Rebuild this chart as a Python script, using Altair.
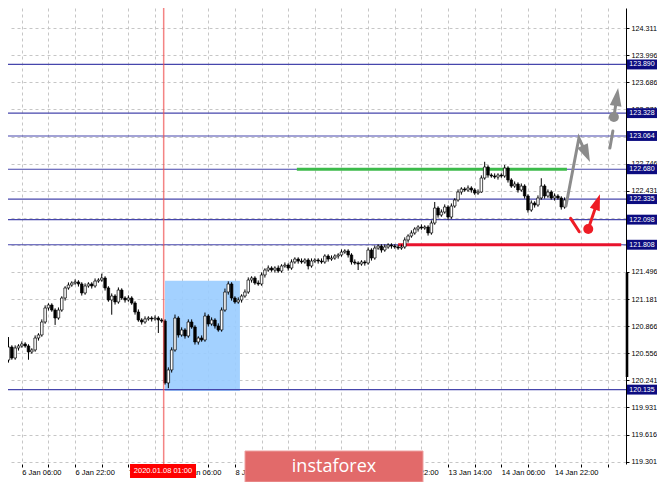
import altair as alt
import pandas as pd

# ---------------- data ----------------
first_open = 120.570
closes = [
    120.500, 120.281, 120.477, 120.627, 120.500, 120.616, 120.639, 120.662, 120.639, 120.570,
    120.593, 120.731, 120.766, 120.916, 121.078, 121.112, 121.054, 120.962, 121.054, 121.193,
    121.309, 121.343, 121.366, 121.378, 121.355, 121.251, 121.332, 121.355, 121.332, 121.389,
    121.401, 121.424, 121.309, 121.170, 121.216, 121.147, 121.285, 121.193, 121.170, 121.193,
    121.135, 121.031, 120.939, 120.916, 120.951, 120.962, 120.951, 120.962, 120.939, 120.927,
    120.212, 120.362, 120.593, 120.962, 120.766, 120.824, 120.754, 120.916, 120.858, 120.685,
    120.731, 120.708, 120.985, 120.893, 120.939, 120.870, 120.824, 121.054, 121.262, 121.355,
    121.193, 121.147, 121.170, 121.216, 121.262, 121.401, 121.424, 121.366, 121.355, 121.459,
    121.516, 121.539, 121.516, 121.539, 121.505, 121.563, 121.574, 121.539, 121.609, 121.643,
    121.620, 121.609, 121.632, 121.563, 121.620, 121.632, 121.620, 121.609, 121.678, 121.643,
    121.655, 121.678, 121.690, 121.724, 121.736, 121.690, 121.609, 121.597, 121.586, 121.609,
    121.597, 121.747, 121.655, 121.770, 121.793, 121.747, 121.782, 121.805, 121.793, 121.782,
    121.770, 121.782, 121.863, 121.909, 121.944, 121.990, 122.013, 122.001, 122.013, 121.944,
    122.059, 122.232, 122.151, 122.186, 122.244, 122.128, 122.255, 122.325, 122.417, 122.452,
    122.440, 122.463, 122.440, 122.405, 122.417, 122.579, 122.706, 122.613, 122.602, 122.590,
    122.613, 122.602, 122.694, 122.556, 122.486, 122.509, 122.440, 122.486, 122.371, 122.209,
    122.290, 122.267, 122.348, 122.486, 122.371, 122.417, 122.348, 122.371, 122.348, 122.244, 122.325,
]
wick_up = [
    0.03, 0.02, 0.03, 0.115, 0.02, 0.03, 0.02, 0.03, 0.02, 0.02,
    0.02, 0.03, 0.02, 0.03, 0.03, 0.02, 0.02, 0.02, 0.03, 0.02,
    0.02, 0.03, 0.02, 0.03, 0.02, 0.02, 0.03, 0.02, 0.02, 0.03,
    0.02, 0.05, 0.02, 0.02, 0.03, 0.02, 0.03, 0.02, 0.02, 0.03,
    0.02, 0.02, 0.03, 0.02, 0.03, 0.02, 0.02, 0.03, 0.02, 0.02,
    0.02, 0.03, 0.03, 0.04, 0.02, 0.03, 0.02, 0.03, 0.03, 0.02,
    0.02, 0.03, 0.04, 0.02, 0.03, 0.02, 0.03, 0.03, 0.04, 0.03,
    0.02, 0.02, 0.03, 0.02, 0.03, 0.03, 0.02, 0.02, 0.03, 0.03,
    0.02, 0.03, 0.02, 0.02, 0.03, 0.02, 0.03, 0.02, 0.03, 0.02,
    0.02, 0.03, 0.02, 0.02, 0.03, 0.02, 0.02, 0.03, 0.02, 0.02,
    0.03, 0.02, 0.02, 0.03, 0.02, 0.02, 0.02, 0.03, 0.02, 0.02,
    0.02, 0.03, 0.02, 0.03, 0.02, 0.02, 0.03, 0.02, 0.02, 0.02,
    0.02, 0.03, 0.03, 0.02, 0.03, 0.02, 0.02, 0.03, 0.02, 0.02,
    0.03, 0.07, 0.02, 0.03, 0.03, 0.02, 0.03, 0.02, 0.03, 0.02,
    0.02, 0.03, 0.02, 0.02, 0.03, 0.03, 0.06, 0.02, 0.02, 0.03,
    0.02, 0.02, 0.035, 0.02, 0.02, 0.03, 0.02, 0.03, 0.02, 0.02,
    0.03, 0.02, 0.03, 0.09, 0.02, 0.03, 0.02, 0.03, 0.02, 0.02, 0.03,
]
wick_dn = [
    0.03, 0.03, 0.02, 0.03, 0.02, 0.02, 0.03, 0.02, 0.02, 0.09,
    0.02, 0.02, 0.03, 0.02, 0.02, 0.03, 0.02, 0.08, 0.02, 0.02,
    0.03, 0.02, 0.02, 0.02, 0.03, 0.03, 0.02, 0.02, 0.03, 0.02,
    0.02, 0.02, 0.03, 0.02, 0.17, 0.03, 0.02, 0.02, 0.03, 0.02,
    0.02, 0.03, 0.02, 0.03, 0.02, 0.02, 0.03, 0.02, 0.15, 0.02,
    0.02, 0.06, 0.03, 0.02, 0.03, 0.02, 0.03, 0.02, 0.02, 0.03,
    0.03, 0.02, 0.02, 0.03, 0.02, 0.03, 0.02, 0.02, 0.02, 0.03,
    0.03, 0.02, 0.02, 0.03, 0.02, 0.02, 0.03, 0.02, 0.02, 0.02,
    0.03, 0.02, 0.02, 0.03, 0.02, 0.02, 0.02, 0.03, 0.02, 0.02,
    0.03, 0.02, 0.02, 0.04, 0.02, 0.02, 0.03, 0.02, 0.02, 0.03,
    0.02, 0.02, 0.03, 0.02, 0.02, 0.03, 0.03, 0.02, 0.07, 0.02,
    0.03, 0.02, 0.03, 0.02, 0.02, 0.03, 0.02, 0.02, 0.03, 0.02,
    0.02, 0.02, 0.02, 0.03, 0.02, 0.02, 0.03, 0.02, 0.02, 0.03,
    0.02, 0.02, 0.03, 0.02, 0.02, 0.03, 0.02, 0.02, 0.02, 0.03,
    0.02, 0.02, 0.03, 0.02, 0.02, 0.01, 0.02, 0.03, 0.02, 0.02,
    0.03, 0.02, 0.02, 0.03, 0.02, 0.02, 0.03, 0.02, 0.03, 0.03,
    0.02, 0.03, 0.02, 0.02, 0.03, 0.02, 0.02, 0.03, 0.02, 0.03, 0.02,
]

price_ticks = [124.311, 123.996, 123.686, 123.371, 123.056, 122.746, 122.431, 122.116,
               121.801, 121.496, 121.181, 120.866, 120.556, 120.241, 119.931, 119.616, 119.301]
# tick labels that sit entirely under a level box in the reference
price_ticks_hidden = [123.056, 122.116, 121.801]
level_prices = [123.890, 123.328, 123.064, 122.680, 122.335, 122.098, 121.808, 120.135]
level_labels = ["123.890", "123.328", "123.064", "122.680", "122.335", "122.098", "121.808", "120.135"]

# time labels (those fully under the watermark are not visible in the reference)
time_tick_bars = [7, 23, 39, 55, 71, 119, 135, 151, 167]
time_tick_labels = ["6 Jan 06:00", "6 Jan 22:00", "7 Jan 14:00", "8 Jan 06:00", "8 Jan 22:00",
                    "10 Jan 22:00", "13 Jan 14:00", "14 Jan 06:00", "14 Jan 22:00"]
grid_bars = [7, 15, 23, 31, 39, 47, 55, 63, 71, 79, 87, 95, 103, 111, 119, 127,
             135, 143, 151, 159, 167, 175, 183]

marked_bar = 49.6
marked_label = "2020.01.08 01:00"
zone_bars = [50.0, 72.5]
zone_prices = [121.393, 120.120]
green_bars = [89.6, 170.7]
green_price = 122.680
red_bars = [120.0, 187.0]
red_price = 121.808
range_bar_prices = [121.482, 120.281]

# arrows (bar index, price)
gray_zig_bars = [170.4, 174.3, 176.5]
gray_zig_prices = [122.255, 123.040, 122.858]
gray_dash_bars = [183.6, 184.5]
gray_dash_prices = [122.925, 123.121]
gray_up_bars = [184.8, 185.7]
gray_up_prices = [123.283, 123.515]
red_dash_bars = [171.8, 174.4]
red_dash_prices = [122.113, 121.958]
red_up_bars = [177.1, 179.85]
red_up_prices = [121.990, 122.303]
head_bars = [176.5, 185.7, 179.85]
head_prices = [122.858, 123.515, 122.303]
head_angles = [155.4, 7.9, 18.7]
head_colors = ["#8c8c8c", "#8c8c8c", "#ee1c25"]
head_sizes = [324, 324, 256]
dot_bars = [184.8, 177.1]
dot_prices = [123.283, 121.990]
dot_colors = ["#8c8c8c", "#ee1c25"]

# ---------------- tables ----------------
n = len(closes)
opens = [first_open] + closes[:-1]
candles = pd.DataFrame({"bar": list(range(n)), "open": opens, "close": closes,
                        "wu": wick_up, "wd": wick_dn})
candles["high"] = candles[["open", "close"]].max(axis=1) + candles["wu"]
candles["low"] = candles[["open", "close"]].min(axis=1) - candles["wd"]
candles["dir"] = ["up" if c >= o else "down" for o, c in zip(opens, closes)]
candles["b0"] = candles["bar"] - 0.38
candles["b1"] = candles["bar"] + 0.38

xs = alt.Scale(domain=[2.85, 188.44], nice=False, zero=False)
ys = alt.Scale(domain=[119.276, 124.542], nice=False, zero=False)
FONT = "Liberation Sans"

x_label_expr = " : ".join(f"datum.value == {b} ? '{l}'" for b, l in zip(time_tick_bars, time_tick_labels)) + " : ''"
y_label_expr = ("indexof([" + ",".join(str(v) for v in price_ticks_hidden) +
                "], datum.value) >= 0 ? '' : format(datum.value, '.3f')")

x_axis = alt.Axis(values=grid_bars, labelExpr=x_label_expr, grid=True, gridColor="#c6c6c6",
                  gridDash=[3, 3], gridWidth=1, domain=False, ticks=True, tickSize=3,
                  tickColor="#000000", labelAlign="left", labelBaseline="top", labelPadding=1,
                  labelFontSize=7.5, labelFont=FONT, labelColor="#000000", labelOverlap=False,
                  labelBound=False, labelFlush=False, title=None)
y_axis = alt.Axis(orient="right", values=price_ticks, labelExpr=y_label_expr, grid=True,
                  gridColor="#c6c6c6", gridDash=[3, 3], gridWidth=1, domain=True,
                  domainColor="#000000", domainWidth=1, ticks=True, tickSize=3,
                  tickColor="#000000", labelPadding=2, labelFontSize=7.2, labelFont=FONT,
                  labelColor="#000000", labelOverlap=False, labelBound=False, labelFlush=False,
                  title=None)


def X(f):
    return alt.X(f, type="quantitative", scale=xs, axis=x_axis)


def Y(f):
    return alt.Y(f, type="quantitative", scale=ys, axis=y_axis)


zone = alt.Chart(pd.DataFrame({"b0": [zone_bars[0]], "b1": [zone_bars[1]],
                               "p0": [zone_prices[0]], "p1": [zone_prices[1]]})).mark_rect(
    color="#99ccff", opacity=0.9).encode(x=X("b0"), x2="b1", y=Y("p0"), y2="p1")

levels = alt.Chart(pd.DataFrame({"p": level_prices})).mark_rule(
    color="#4646ac", strokeWidth=1.2).encode(y=Y("p"))

red_h = alt.Chart(pd.DataFrame({"b0": [red_bars[0]], "b1": [red_bars[1]], "p": [red_price]})).mark_rule(
    color="#e8132d", strokeWidth=3.2).encode(x=X("b0"), x2="b1", y=Y("p"))

green_h = alt.Chart(pd.DataFrame({"b0": [green_bars[0]], "b1": [green_bars[1]], "p": [green_price]})).mark_rule(
    color="#3cba4a", strokeWidth=3).encode(x=X("b0"), x2="b1", y=Y("p"))

wicks = alt.Chart(candles).mark_rule(color="#000000", strokeWidth=1, clip=True).encode(
    x=X("bar"), y=Y("low"), y2="high")

bodies = alt.Chart(candles).mark_rect(stroke="#000000", strokeWidth=0.7, clip=True).encode(
    x=X("b0"), x2="b1", y=Y("open"), y2="close",
    fill=alt.Fill("dir:N", scale=alt.Scale(domain=["up", "down"], range=["#ffffff", "#000000"]), legend=None))

vline = alt.Chart(pd.DataFrame({"b": [marked_bar]})).mark_rule(
    color="#f05050", strokeWidth=1.5, opacity=0.7).encode(x=X("b"))

seg_rows = []
for name, bs, ps in [("g1", gray_zig_bars, gray_zig_prices), ("g2", gray_dash_bars, gray_dash_prices),
                     ("g3", gray_up_bars, gray_up_prices)]:
    for k, (b, p) in enumerate(zip(bs, ps)):
        seg_rows.append({"seg": name, "k": k, "b": b, "p": p})
gray_lines = alt.Chart(pd.DataFrame(seg_rows)).mark_line(
    color="#8c8c8c", strokeWidth=3, strokeCap="round").encode(
    x=X("b"), y=Y("p"), detail="seg:N", order="k:Q")

red_rows = []
for name, bs, ps in [("r1", red_dash_bars, red_dash_prices), ("r2", red_up_bars, red_up_prices)]:
    for k, (b, p) in enumerate(zip(bs, ps)):
        red_rows.append({"seg": name, "k": k, "b": b, "p": p})
red_lines = alt.Chart(pd.DataFrame(red_rows)).mark_line(
    color="#ee1c25", strokeWidth=3, strokeCap="round").encode(
    x=X("b"), y=Y("p"), detail="seg:N", order="k:Q")

heads = alt.Chart(pd.DataFrame({"b": head_bars, "p": head_prices, "a": head_angles,
                                "c": head_colors, "s": head_sizes})).mark_point(
    shape="M0,-1L0.65,1L-0.65,1Z", filled=True, opacity=1).encode(
    x=X("b"), y=Y("p"), angle=alt.Angle("a:Q", scale=None),
    color=alt.Color("c:N", scale=None), size=alt.Size("s:Q", scale=None))

dots = alt.Chart(pd.DataFrame({"b": dot_bars, "p": dot_prices, "c": dot_colors})).mark_circle(
    size=100, opacity=1).encode(x=X("b"), y=Y("p"), color=alt.Color("c:N", scale=None))

range_bar = alt.Chart(pd.DataFrame({"p0": [range_bar_prices[0]], "p1": [range_bar_prices[1]]})).mark_rule(
    color="#000000", strokeWidth=2.6).encode(x=alt.value(619), y=Y("p0"), y2="p1")

lvl_df = pd.DataFrame({"p": level_prices, "t": level_labels})
lvl_boxes = alt.Chart(lvl_df).mark_point(
    shape="M-1,-0.33L1,-0.33L1,0.33L-1,0.33Z", size=900, filled=True, color="#0c0c80",
    opacity=1).encode(x=alt.value(634), y=Y("p"))
lvl_text = alt.Chart(lvl_df).mark_text(
    color="#ffffff", fontSize=7, font=FONT, align="center", baseline="middle").encode(
    x=alt.value(634), y=Y("p"), text="t:N")

mark_df = pd.DataFrame({"b": [marked_bar - 0.2], "t": [marked_label]})
mark_box = alt.Chart(mark_df).mark_point(
    shape="M-1,-0.212L1,-0.212L1,0.212L-1,0.212Z", size=4356, filled=True, color="#ff0000",
    opacity=1).encode(x=X("b"), y=alt.value(463))
mark_text = alt.Chart(mark_df).mark_text(
    color="#ffffff", fontSize=7.5, font=FONT, align="center", baseline="middle").encode(
    x=X("b"), y=alt.value(463), text="t:N")

wm_box = alt.Chart(pd.DataFrame({"t": ["instaforex"]})).mark_rect(
    color="#e26a6a", stroke="#eea0a0", strokeWidth=1).encode(
    x=alt.value(237), x2=alt.value(415), y=alt.value(443), y2=alt.value(474))
wm_text = alt.Chart(pd.DataFrame({"t": ["instaforex"]})).mark_text(
    color="#ffffff", fontSize=18, font="Open Sans", align="center", baseline="middle").encode(
    x=alt.value(326), y=alt.value(459), text="t:N")

chart = alt.layer(
    zone, levels, red_h, green_h, wicks, bodies, vline,
    gray_lines, red_lines, heads, dots,
    range_bar, lvl_boxes, lvl_text, mark_box, mark_text, wm_box, wm_text
).properties(
    width=618, height=456,
    autosize=alt.AutoSizeParams(type="none"),
    padding={"left": 0, "top": 0, "right": 31, "bottom": 18},
    background="#ffffff",
).configure_view(stroke=None)

chart.save("out.html", embed_options={"renderer": "svg", "actions": False})
